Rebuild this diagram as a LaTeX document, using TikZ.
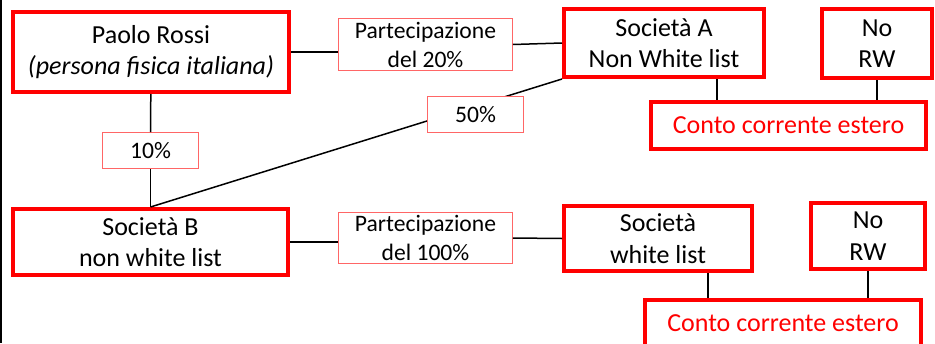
\documentclass[tikz,border=0pt]{standalone}
\usepackage{fontspec}
\setmainfont{Carlito}
\usetikzlibrary{calc}

\begin{document}
\begin{tikzpicture}
   [
      x=1pt, y=-1pt,
      entity/.style={rectangle, draw=red, line width=4pt, fill=white, align=center,
                     inner sep=2pt, font=\fontsize{26}{31.5}\selectfont},
      account/.style={entity, text=red},
      share box/.style={rectangle, draw=red!60, line width=1.2pt, fill=white, align=center,
                        inner sep=2pt, font=\fontsize{23.6}{29}\selectfont},
      link/.style={line width=1.5pt, black}
   ]

   \useasboundingbox (0,0) rectangle (935,343);

   % left frame line
   \draw[line width=1.5pt] (0.75,0) -- (0.75,343);

   % =======================================================
   % Top row: Paolo Rossi and Societa A
   % =======================================================

   \node[entity, minimum width=276pt, minimum height=80pt] (paolo) at (151,52)
      {Paolo Rossi\\\textit{(persona fisica italiana)}};
   \node[share box, minimum width=173.5pt, minimum height=51.5pt] (part20) at (425.5,44.5)
      {Partecipazione\\del 20\%};
   \node[entity, minimum width=200pt, minimum height=68pt] (socA) at (664,43)
      {Società A\\Non White list};
   \node[entity, minimum width=110pt, minimum height=69pt] (norwA) at (877,43.5)
      {No\\RW};
   \node[account, minimum width=275pt, minimum height=47pt] (contoA) at (788.5,125.5)
      {Conto corrente estero};

   % =======================================================
   % Bottom row: Societa B and Societa white list
   % =======================================================

   \node[share box, minimum width=95.5pt, minimum height=35.5pt] (tenp) at (150.5,150.5) {10\%};
   \node[entity, minimum width=275pt, minimum height=66pt] (socB) at (150.5,242)
      {Società B\\non white list};
   \node[share box, minimum width=173.5pt, minimum height=50.5pt] (part100) at (425.5,238)
      {Partecipazione\\del 100\%};
   \node[entity, minimum width=188pt, minimum height=65pt] (socW) at (658,238.5)
      {Società\\white list};
   \node[entity, minimum width=114pt, minimum height=66pt] (norwB) at (868,236)
      {No\\RW};
   \node[account, minimum width=276pt, minimum height=47pt] (contoB) at (783,323.5)
      {Conto corrente estero};

   % Links between holders and companies
   \draw[link] (paolo.east) -- (paolo.east -| part20.west);
   \draw[link] (part20.east) -- (socA.west);
   \draw[link] (paolo) -- (tenp);
   \draw[link] (tenp) -- (socB);
   \draw[link] (socB.east) -- (socB.east -| part100.west);
   \draw[link] (part100.east) -- (socW.west);

   % Diagonal share, label box drawn over it
   \draw[link] (socB.north) -- (socA.south west);
   \node[share box, minimum width=95.5pt, minimum height=35.5pt] (fiftyp) at (475.5,114.5) {50\%};

   % Drops to the foreign accounts
   \coordinate (dropA) at ($(socA.south west)!0.76!(socA.south east)$);
   \coordinate (dropW) at ($(socW.south west)!0.76!(socW.south east)$);
   \draw[link] (dropA) -- (dropA |- contoA.north);
   \draw[link] (norwA.south) -- (norwA.south |- contoA.north);
   \draw[link] (dropW) -- (dropW |- contoB.north);
   \draw[link] (norwB.south) -- (norwB.south |- contoB.north);

\end{tikzpicture}
\end{document}
